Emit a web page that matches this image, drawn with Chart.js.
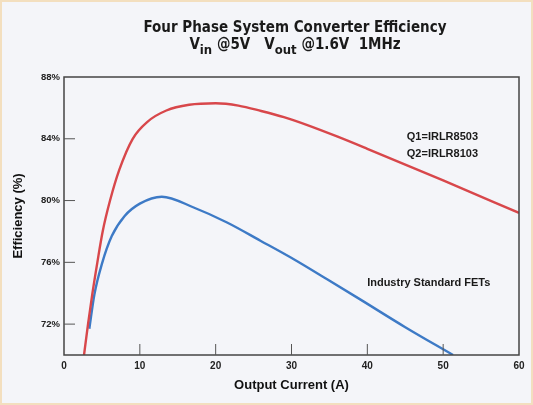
<!DOCTYPE html>
<html>
<head>
<meta charset="utf-8">
<script src="https://cdn.jsdelivr.net/npm/chart.js@4.4.1/dist/chart.umd.min.js"></script>
<style>
  html, body { margin: 0; padding: 0; background: #f4f5f9; }
  #wrap { position: relative; width: 533px; height: 405px; box-sizing: border-box; border: 2px solid #f3dfbf; }
  canvas { display: block; }
</style>
</head>
<body>
<div id="wrap"><canvas id="my-chart" width="529" height="401"></canvas></div>
<script>
'use strict';

// ***** DATA *****
let newFetCurrent = [2.64, 3.17, 3.75, 4.4, 5.1, 6.07, 7.3, 9.06, 11, 13.5, 16.5, 20, 23, 26, 29, 32, 36, 40, 50, 60];
let newFetEfficiency = [70, 72, 74, 76, 78, 80, 82, 84, 85.1, 85.83, 86.2, 86.3, 86.15, 85.8, 85.4, 84.9, 84.15, 83.35, 81.3, 79.2];

let stdFetCurrent = [3.34, 4.0, 5.0, 6.3, 8.0, 10, 12.9, 17.1, 21.5, 25.9, 30.3, 34.7, 39.05, 45, 51.3];
let stdFetEfficiency = [71.7, 73.9, 75.9, 77.7, 79.0, 79.8, 80.25, 79.55, 78.58, 77.4, 76.2, 74.9, 73.6, 71.8, 70];

let xTicks = [0, 10, 20, 30, 40, 50, 60];
let yTicks = [72, 76, 80, 84, 88];

let titleLine = 'Four Phase System Converter Efficiency';
let newFetLabel = ['Q1=IRLR8503', 'Q2=IRLR8103'];
let stdFetLabel = 'Industry Standard FETs';

// ***** HELPERS *****
function toPoints(xs, ys) {
  let pts = [];
  for (let i = 0; i < xs.length; i++) {
    pts.push({ x: xs[i], y: ys[i] });
  }
  return pts;
}

const BOLD = 'bold';
const FONT = 'Arial, "Liberation Sans", sans-serif';
const NARROW = '"Liberation Sans Narrow", "DejaVu Sans Condensed", Arial, sans-serif';

// draws title, frame, inward ticks and the curve labels
let decorPlugin = {
  id: 'decor',
  afterDraw(chart) {
    let c = chart.ctx;
    let area = chart.chartArea;
    let xs = chart.scales.x;
    let ys = chart.scales.y;
    c.save();
    c.fillStyle = '#1a1a1a';
    c.textAlign = 'center';
    c.textBaseline = 'alphabetic';

    // title
    let cx = 293;
    c.font = 'bold 15px ' + NARROW;
    c.fillText(titleLine, cx, 30);

    let parts = [
      ['V', 0], ['in', 1], [' @5V   V', 0], ['out', 1], [' @1.6V  1MHz', 0]
    ];
    let big = 'bold 15px ' + NARROW;
    let small = 'bold 13px ' + NARROW;
    let total = 0;
    for (let p of parts) {
      c.font = p[1] ? small : big;
      total += c.measureText(p[0]).width;
    }
    let px = cx - total / 2;
    c.textAlign = 'left';
    for (let p of parts) {
      c.font = p[1] ? small : big;
      c.fillText(p[0], px, p[1] ? 52 : 47);
      px += c.measureText(p[0]).width;
    }

    // frame
    c.strokeStyle = '#444';
    c.lineWidth = 1.5;
    c.strokeRect(area.left, area.top, area.right - area.left, area.bottom - area.top);

    // inward ticks
    c.lineWidth = 1;
    c.strokeStyle = '#555';
    for (let v of yTicks) {
      if (v >= 88) continue;
      let y = ys.getPixelForValue(v);
      c.beginPath();
      c.moveTo(area.left, y);
      c.lineTo(area.left + 11, y);
      c.stroke();
    }
    for (let v of xTicks) {
      if (v === 0 || v === 60) continue;
      let x = xs.getPixelForValue(v);
      c.beginPath();
      c.moveTo(x, area.bottom);
      c.lineTo(x, area.bottom - 11);
      c.stroke();
    }

    // curve labels
    c.textAlign = 'center';
    c.font = 'bold 11px ' + FONT;
    c.fillText(newFetLabel[0], xs.getPixelForValue(49.9), ys.getPixelForValue(83.95));
    c.fillText(newFetLabel[1], xs.getPixelForValue(49.9), ys.getPixelForValue(82.85));
    c.fillText(stdFetLabel, xs.getPixelForValue(48.1), ys.getPixelForValue(74.45));
    c.restore();
  }
};

let chartObj = {
  type: 'line',
  data: {
    datasets: [
      {
        label: 'Q1=IRLR8503 / Q2=IRLR8103',
        data: toPoints(newFetCurrent, newFetEfficiency),
        borderColor: '#d8474b',
        borderWidth: 2.4,
        pointRadius: 0,
        cubicInterpolationMode: 'monotone',
        fill: false
      },
      {
        label: 'Industry Standard FETs',
        data: toPoints(stdFetCurrent, stdFetEfficiency),
        borderColor: '#3d7ac6',
        borderWidth: 2.4,
        pointRadius: 0,
        cubicInterpolationMode: 'monotone',
        fill: false
      }
    ]
  },
  options: {
    responsive: false,
    animation: false,
    layout: { padding: { top: 75, right: 12, bottom: 10, left: 0 } },
    plugins: {
      legend: { display: false },
      title: { display: false },
      tooltip: { enabled: false }
    },
    scales: {
      x: {
        type: 'linear',
        min: 0,
        max: 60,
        afterBuildTicks: s => { s.ticks = xTicks.map(v => ({ value: v })); },
        afterFit: s => { s.height = 38; },
        grid: { display: false, drawTicks: false },
        border: { display: false },
        ticks: {
          padding: 5,
          color: '#222',
          font: { family: FONT, size: 10, weight: BOLD },
          maxRotation: 0
        },
        title: {
          display: true,
          text: 'Output Current (A)',
          color: '#111',
          padding: { top: 2, bottom: 0 },
          font: { family: FONT, size: 13, weight: BOLD }
        }
      },
      y: {
        min: 70,
        max: 88,
        afterBuildTicks: s => { s.ticks = yTicks.map(v => ({ value: v })); },
        afterFit: s => { s.width = 62; },
        grid: { display: false, drawTicks: false },
        border: { display: false },
        ticks: {
          padding: 4,
          color: '#222',
          font: { family: FONT, size: 9.5, weight: BOLD },
          callback: v => v + '%'
        },
        title: {
          display: true,
          text: 'Efficiency (%)',
          color: '#111',
          padding: { top: 9, bottom: 0 },
          font: { family: FONT, size: 13, weight: BOLD }
        }
      }
    }
  },
  plugins: [decorPlugin]
};

let ctx = document.getElementById('my-chart');
new Chart(ctx, chartObj);
</script>
</body>
</html>
